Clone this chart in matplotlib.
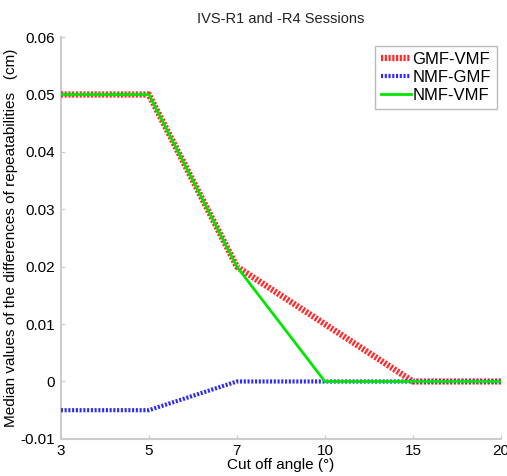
import matplotlib
matplotlib.use("Agg")
import matplotlib.pyplot as plt

angles = ["3", "5", "7", "10", "15", "20"]
gmf_vmf = [0.05, 0.05, 0.02, 0.01, 0.0, 0.0]
nmf_gmf = [-0.005, -0.005, 0.0, 0.0, 0.0, 0.0]
nmf_vmf = [0.05, 0.05, 0.02, 0.0, 0.0, 0.0]
yticks = [-0.01, 0, 0.01, 0.02, 0.03, 0.04, 0.05, 0.06]
ytick_labels = ["-0.01", "0", "0.01", "0.02", "0.03", "0.04", "0.05", "0.06"]

plt.rcParams['font.family'] = ['Liberation Sans', 'DejaVu Sans']

fig = plt.figure(figsize=(5.07, 4.76), dpi=100)
ax = fig.add_axes([0.120, 0.078, 0.868, 0.844])
x = list(range(len(angles)))

ax.plot(x, gmf_vmf, color='#ff2a2a', lw=4.5, linestyle=(0, (0.35, 0.25)), label='GMF-VMF', zorder=3)
ax.plot(x, nmf_gmf, color='#2a2aff', lw=3, linestyle=(0, (0.5, 0.4)), label='NMF-GMF', zorder=3)
ax.plot(x, nmf_vmf, color='#00e600', lw=2, linestyle='-', label='NMF-VMF', zorder=4)

ax.set_xlim(0, len(angles) - 1)
ax.set_ylim(-0.01, 0.06)
ax.set_xticks(x)
ax.set_xticklabels(angles)
ax.set_yticks(yticks)
ax.set_yticklabels(ytick_labels)
ax.tick_params(direction='in', length=3, color='#cccccc', labelsize=11, pad=4)
for s in ['top', 'right']:
    ax.spines[s].set_visible(False)
for s in ['left', 'bottom']:
    ax.spines[s].set_color('#cccccc')
    ax.spines[s].set_linewidth(1.5)

ax.set_title('IVS-R1 and -R4 Sessions', fontsize=10.5, color='#222222', pad=10)
ax.set_xlabel('Cut off angle (°)', fontsize=11, labelpad=0)
ax.set_ylabel('Median values of the differences of repeatabilities   (cm)', fontsize=11, labelpad=2)

leg = ax.legend(loc='upper right', bbox_to_anchor=(0.9985, 0.987), fontsize=12, frameon=True,
                fancybox=False, edgecolor='#aaaaaa', handlelength=1.8, handletextpad=0.1,
                borderpad=0.35, labelspacing=0.2, borderaxespad=0.2)
leg.get_frame().set_linewidth(1)

fig.savefig('out.png', dpi=100)
